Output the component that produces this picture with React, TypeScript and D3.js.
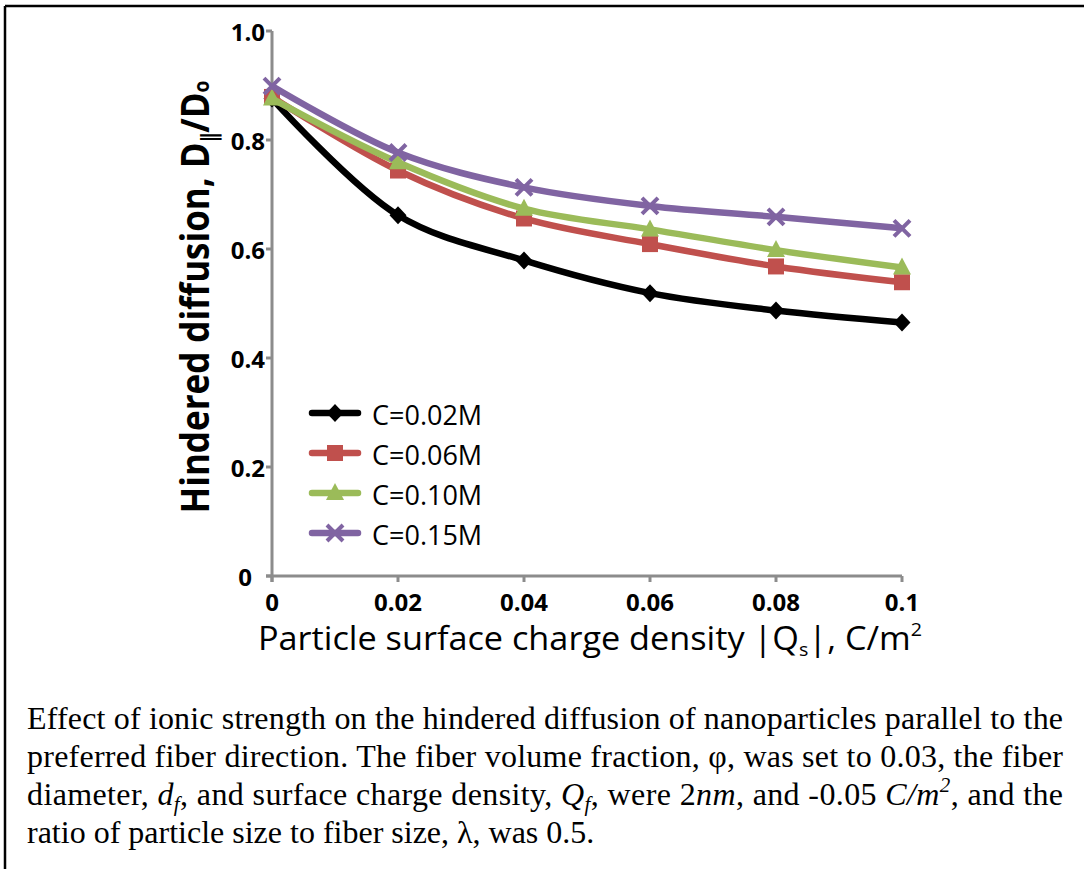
import React from 'react';
import * as d3 from 'd3';

const charge = [0, 0.02, 0.04, 0.06, 0.08, 0.1];
const c002 = [0.876, 0.662, 0.579, 0.519, 0.487, 0.465];
const c006 = [0.879, 0.744, 0.656, 0.609, 0.568, 0.539];
const c010 = [0.876, 0.759, 0.674, 0.636, 0.598, 0.566];
const c015 = [0.899, 0.777, 0.713, 0.679, 0.659, 0.638];
const seriesNames = ['C=0.02M', 'C=0.06M', 'C=0.10M', 'C=0.15M'];
const xTicks = [0, 0.02, 0.04, 0.06, 0.08, 0.1];
const xTickLabels = ['0', '0.02', '0.04', '0.06', '0.08', '0.1'];
const yTicks = [0, 0.2, 0.4, 0.6, 0.8, 1.0];
const yTickLabels = ['0', '0.2', '0.4', '0.6', '0.8', '1.0'];

const captionLines = [
  'Effect of ionic strength on the hindered diffusion of nanoparticles parallel to the',
  'preferred fiber direction. The fiber volume fraction, \u03c6, was set to 0.03, the fiber',
];

const W = 1084;
const H = 869;
const axisColor = '#8c8c8c';
const sansFont = "'Open Sans', 'DejaVu Sans', sans-serif";
const serifFont = "'Liberation Serif', 'Times New Roman', serif";

const series = [
  { name: seriesNames[0], values: c002, color: '#000000', marker: 'diamond' },
  { name: seriesNames[1], values: c006, color: '#c0504d', marker: 'square' },
  { name: seriesNames[2], values: c010, color: '#9bbb59', marker: 'triangle' },
  { name: seriesNames[3], values: c015, color: '#8064a2', marker: 'cross' },
];

// one marker glyph, centred on 0,0
function Marker({ type, color }: { type: string; color: string }) {
  if (type === 'diamond') {
    return <path d="M0,-9L8.5,0L0,9L-8.5,0Z" fill={color} />;
  }
  if (type === 'square') {
    return <rect x={-8} y={-8} width={16} height={16} fill={color} />;
  }
  if (type === 'triangle') {
    return <path d="M0,-10L9,7L-9,7Z" fill={color} />;
  }
  return (
    <path d="M-8,-8L8,8M-8,8L8,-8" stroke={color} strokeWidth={4} fill="none" />
  );
}

export default function App() {
  const x = d3.scaleLinear().domain([0, 0.1]).range([272, 902]);
  const y = d3.scaleLinear().domain([0, 1]).range([576, 31]);

  const line = d3
    .line<number>()
    .x((d, i) => x(charge[i]))
    .y((d) => y(d))
    .curve(d3.curveCatmullRom.alpha(0.5));

  const legendX = 312;
  const legendY = 413;
  const legendStep = 40;

  return (
    <svg
      width={W}
      height={H}
      style={{ position: 'absolute', left: 0, top: 0, background: '#fff' }}
    >
      {/* frame */}
      <line x1={5} y1={6} x2={W} y2={6} stroke="#000" strokeWidth={2.5} />
      <line x1={5} y1={6} x2={5} y2={H} stroke="#000" strokeWidth={2.5} />

      {/* axes */}
      <g stroke={axisColor} strokeWidth={3}>
        <line x1={x(0)} y1={y(1)} x2={x(0)} y2={y(0) + 6} />
        <line x1={x(0) - 6} y1={y(0)} x2={x(0.1)} y2={y(0)} />
        {yTicks.map((t) => (
          <line key={'yt' + t} x1={x(0) - 6} y1={y(t)} x2={x(0)} y2={y(t)} />
        ))}
        {xTicks.map((t) => (
          <line key={'xt' + t} x1={x(t)} y1={y(0)} x2={x(t)} y2={y(0) + 6} />
        ))}
      </g>
      <g fontFamily={sansFont} fontWeight={700} fontSize={24} fill="#000">
        {yTicks.map((t, i) => (
          <text
            key={'yl' + t}
            x={x(0) - (t === 0 ? 20 : 7)}
            y={y(t) + 10}
            textAnchor="end"
          >
            {yTickLabels[i]}
          </text>
        ))}
        {xTicks.map((t, i) => (
          <text key={'xl' + t} x={x(t)} y={y(0) + 35} textAnchor="middle">
            {xTickLabels[i]}
          </text>
        ))}
      </g>

      {/* axis titles */}
      <text
        transform="translate(209,297) rotate(-90)"
        textAnchor="middle"
        fontFamily={sansFont}
        fontWeight={700}
        fontSize={40}
        textLength={433}
        lengthAdjust="spacingAndGlyphs"
      >
        Hindered diffusion, D
        <tspan fontSize={22} dy={8}>{'\u2225'}</tspan>
        <tspan dy={-8}>/D</tspan>
        <tspan fontSize={22}>o</tspan>
      </text>
      <text
        x={590}
        y={650}
        textAnchor="middle"
        fontFamily={sansFont}
        fontSize={33}
        textLength={664}
        lengthAdjust="spacingAndGlyphs"
      >
        Particle surface charge density |Q
        <tspan fontSize={19} dy={6}>s</tspan>
        <tspan dy={-6}>|, C/m</tspan>
        <tspan fontSize={19} dy={-14}>2</tspan>
      </text>

      {/* series */}
      {series.map((s) => (
        <g key={s.name}>
          <path
            d={line(s.values) || ''}
            fill="none"
            stroke={s.color}
            strokeWidth={6.5}
            strokeLinejoin="round"
          />
          {s.values.map((v, i) => (
            <g key={i} transform={`translate(${x(charge[i])},${y(v)})`}>
              <Marker type={s.marker} color={s.color} />
            </g>
          ))}
        </g>
      ))}

      {/* legend */}
      {series.map((s, i) => (
        <g key={'lg' + s.name} transform={`translate(${legendX},${legendY + i * legendStep})`}>
          <line x1={0} y1={0} x2={46} y2={0} stroke={s.color} strokeWidth={6.5} strokeLinecap="round" />
          <g transform="translate(23,0)">
            <Marker type={s.marker} color={s.color} />
          </g>
          <text x={60} y={12} fontFamily={sansFont} fontSize={27}>
            {s.name}
          </text>
        </g>
      ))}

      {/* caption */}
      <g fontFamily={serifFont} fontSize={32} fill="#000">
        {captionLines.map((l, i) => (
          <text
            key={'cap' + i}
            x={27}
            y={729 + i * 38}
            textLength={1036}
            lengthAdjust="spacing"
          >
            {l}
          </text>
        ))}
        <text x={27} y={805} textLength={1036} lengthAdjust="spacing">
          diameter, <tspan fontStyle="italic">d</tspan>
          <tspan fontStyle="italic" fontSize={21} dy={6}>f</tspan>
          <tspan dy={-6}>, and surface charge density, </tspan>
          <tspan fontStyle="italic">Q</tspan>
          <tspan fontStyle="italic" fontSize={21} dy={6}>f</tspan>
          <tspan dy={-6}>, were 2</tspan>
          <tspan fontStyle="italic">nm</tspan>
          <tspan>, and -0.05 </tspan>
          <tspan fontStyle="italic">C/m</tspan>
          <tspan fontStyle="italic" fontSize={21} dy={-13}>2</tspan>
          <tspan dy={13}>, and the</tspan>
        </text>
        <text x={27} y={843}>
          ratio of particle size to fiber size, {'\u03bb'}, was 0.5.
        </text>
      </g>
    </svg>
  );
}
